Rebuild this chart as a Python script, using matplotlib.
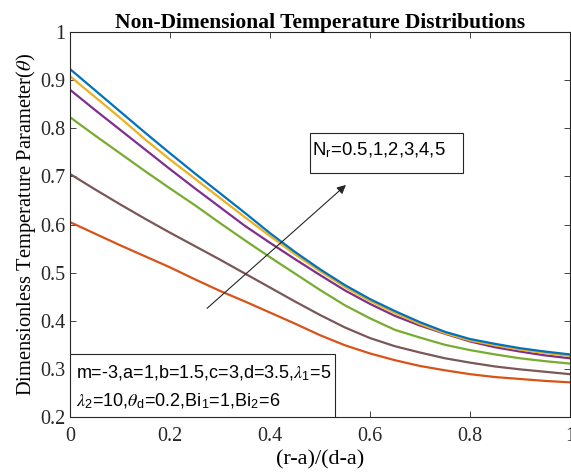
import numpy as np
import matplotlib.pyplot as plt
from matplotlib.ticker import FuncFormatter
from matplotlib.patches import Rectangle

plt.rcParams['mathtext.fontset'] = 'stix'

# Data (theta vs (r-a)/(d-a)), one curve per Nr
x = [0.00, 0.05, 0.10, 0.15, 0.20, 0.25, 0.30, 0.35, 0.40, 0.45, 0.50,
     0.55, 0.60, 0.65, 0.70, 0.75, 0.80, 0.85, 0.90, 0.95, 1.00]
nr_05 = [0.605, 0.581, 0.557, 0.534, 0.511, 0.486, 0.462, 0.440, 0.417, 0.394, 0.370,
         0.349, 0.332, 0.318, 0.306, 0.297, 0.289, 0.283, 0.279, 0.275, 0.272]
nr_1 = [0.705, 0.673, 0.642, 0.612, 0.583, 0.555, 0.527, 0.498, 0.469, 0.440, 0.412,
        0.386, 0.364, 0.347, 0.334, 0.322, 0.313, 0.305, 0.299, 0.294, 0.289]
nr_2 = [0.823, 0.785, 0.748, 0.711, 0.675, 0.640, 0.603, 0.567, 0.532, 0.498, 0.464,
        0.432, 0.405, 0.381, 0.365, 0.350, 0.339, 0.330, 0.322, 0.316, 0.311]
nr_3 = [0.880, 0.838, 0.797, 0.756, 0.715, 0.675, 0.636, 0.597, 0.562, 0.528, 0.495,
        0.463, 0.435, 0.410, 0.390, 0.373, 0.357, 0.345, 0.336, 0.328, 0.322]
nr_4 = [0.908, 0.865, 0.822, 0.777, 0.735, 0.695, 0.655, 0.615, 0.576, 0.538, 0.503,
        0.470, 0.441, 0.416, 0.393, 0.374, 0.359, 0.349, 0.340, 0.333, 0.327]
nr_5 = [0.923, 0.879, 0.835, 0.791, 0.748, 0.706, 0.665, 0.624, 0.582, 0.543, 0.507,
        0.474, 0.445, 0.420, 0.397, 0.377, 0.362, 0.352, 0.343, 0.336, 0.330]

curves = [nr_05, nr_1, nr_2, nr_3, nr_4, nr_5]
colors = ['#D95319', '#7A5858', '#77AC30', '#7E2F8E', '#EDB120', '#0072BD']

fig = plt.figure(figsize=(5.71, 4.75), dpi=100)
ax = fig.add_axes([70/571, 58/475, 500/571, 385/475])

for y, c in zip(curves, colors):
    ax.plot(x, y, color=c, lw=1.6)

ax.set_xlim(0, 1)
ax.set_ylim(0.2, 1)
ax.set_xticks(np.arange(0, 1.01, 0.2))
ax.set_yticks(np.arange(0.2, 1.01, 0.1))
fmt = FuncFormatter(lambda v, p: '%g' % round(v, 2))
ax.xaxis.set_major_formatter(fmt)
ax.yaxis.set_major_formatter(fmt)
ax.tick_params(direction='in', top=True, right=True, length=4, width=0.6,
               colors='#262626', labelsize=14.5)
ax.tick_params(axis='x', pad=7)
for lab in ax.get_xticklabels() + ax.get_yticklabels():
    lab.set_fontfamily('Liberation Serif')
for s in ax.spines.values():
    s.set_color('#262626')
    s.set_linewidth(0.8)

ax.set_title('Non-Dimensional Temperature Distributions', family='Liberation Serif',
             fontweight='bold', fontsize=15.5, pad=3)
ax.set_xlabel('(r-a)/(d-a)', family='Liberation Serif', fontsize=16, labelpad=3)
ax.set_ylabel(r'Dimensionless Temperature Parameter($\theta$)', family='Liberation Serif',
              fontsize=14.8, labelpad=1)

# arrow showing increasing Nr
ax.annotate('', xy=(0.556, 0.686), xytext=(0.27, 0.422),
            arrowprops=dict(arrowstyle='-|>', color='#262626', lw=0.8,
                            mutation_scale=13))

# Nr text box
ax.add_patch(Rectangle((0.48, 0.707), 0.306, 0.083, fc='white', ec='#262626', lw=0.8, zorder=3))
ax.text(0.485, 0.755, r'N$_\mathregular{r}$=0.5,1,2,3,4,5', family='Liberation Sans',
        fontsize=13.3, va='center', ha='left', zorder=4)

# parameter box
ax.add_patch(Rectangle((0, 0.2), 0.53, 0.131, fc='white', ec='#262626', lw=0.8, zorder=3))
ax.text(0.012, 0.2935, 'm=-3,a=1,b=1.5,c=3,d=3.5,$\\lambda_\\mathregular{1}$=5',
        family='Liberation Sans', fontsize=13, va='center', ha='left', zorder=4)
ax.text(0.012, 0.235, '$\\lambda_\\mathregular{2}$=10,$\\theta_\\mathregular{d}$=0.2,'
        'Bi$_\\mathregular{1}$=1,Bi$_\\mathregular{2}$=6',
        family='Liberation Sans', fontsize=13, va='center', ha='left', zorder=4)

fig.savefig('out.png', dpi=100)
